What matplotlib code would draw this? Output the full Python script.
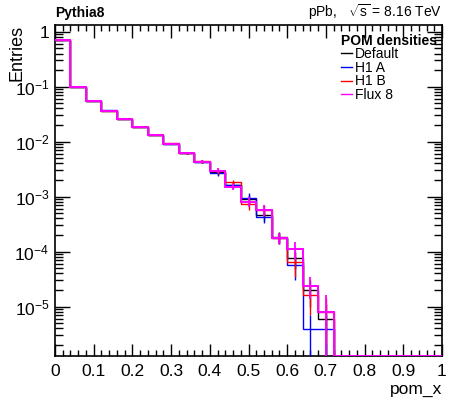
import numpy as np
import matplotlib
matplotlib.use("Agg")
import matplotlib.pyplot as plt
from matplotlib.lines import Line2D
from matplotlib.ticker import FixedLocator, FixedFormatter, LogLocator, NullFormatter, MultipleLocator

plt.rcParams['font.family'] = ['Liberation Sans', 'DejaVu Sans']
plt.rcParams['mathtext.fontset'] = 'custom'
plt.rcParams['mathtext.rm'] = 'Liberation Sans'
plt.rcParams['mathtext.it'] = 'Liberation Sans:italic'
plt.rcParams['mathtext.bf'] = 'Liberation Sans:bold'

# ---- data ----
bin_edges = [0.00, 0.04, 0.08, 0.12, 0.16, 0.20, 0.24, 0.28, 0.32, 0.36, 0.40, 0.44, 0.48,
             0.52, 0.56, 0.60, 0.64, 0.68, 0.72, 0.76, 0.80, 0.84, 0.88, 0.92, 0.96, 1.00]

default_vals = [0.71, 0.098, 0.0557, 0.0367, 0.0259, 0.0185, 0.0132, 0.0092, 0.0063, 0.0043,
                0.0028, 0.00165, 9.1e-4, 4.7e-4, 1.85e-4, 7.6e-5, 2.0e-5, 6.0e-6,
                0, 0, 0, 0, 0, 0, 0]
h1a_vals = [0.71, 0.098, 0.0557, 0.0368, 0.0262, 0.0187, 0.0132, 0.0092, 0.0063, 0.0043,
            0.0027, 0.00162, 9.6e-4, 4.3e-4, 1.8e-4, 5.6e-5, 3.9e-6, 3.9e-6,
            0, 0, 0, 0, 0, 0, 0]
h1b_vals = [0.71, 0.098, 0.0555, 0.0367, 0.0258, 0.0185, 0.0132, 0.0093, 0.0063, 0.00435,
            0.0029, 0.00182, 7.2e-4, 5.7e-4, 1.8e-4, 6.5e-5, 1.6e-5, 8.1e-6,
            0, 0, 0, 0, 0, 0, 0]
flux8_vals = [0.71, 0.098, 0.0555, 0.0366, 0.0257, 0.0184, 0.0131, 0.0091, 0.0062, 0.0043,
              0.00297, 0.00152, 8.1e-4, 5.7e-4, 1.75e-4, 1.1e-4, 2.4e-5, 8.1e-6,
              0, 0, 0, 0, 0, 0, 0]

default_err = [0.003, 0.0008, 0.0005, 0.0004, 0.0003, 0.00025, 0.0002, 0.00017, 2.5e-4, 3e-4,
               3e-4, 2e-4, 1.7e-4, 1.1e-4, 4e-5, 2.8e-5, 1e-5, 5e-6,
               0, 0, 0, 0, 0, 0, 0]
h1a_err = [0.003, 0.0008, 0.0005, 0.0004, 0.0003, 0.00025, 0.0002, 0.00017, 2.5e-4, 3e-4,
           3e-4, 2e-4, 1.8e-4, 1e-4, 4e-5, 2.5e-5, 3.2e-6, 3.2e-6,
           0, 0, 0, 0, 0, 0, 0]
h1b_err = [0.003, 0.0008, 0.0005, 0.0004, 0.0003, 0.00025, 0.0002, 0.00017, 2.5e-4, 3.5e-4,
           3.4e-4, 2.2e-4, 1.5e-4, 1.3e-4, 4e-5, 3e-5, 9e-6, 6e-6,
           0, 0, 0, 0, 0, 0, 0]
flux8_err = [0.003, 0.0008, 0.0005, 0.0004, 0.0003, 0.00025, 0.0002, 0.00017, 2.5e-4, 3e-4,
             3.4e-4, 2e-4, 1.6e-4, 1.3e-4, 4e-5, 4e-5, 1e-5, 8e-6,
             0, 0, 0, 0, 0, 0, 0]

series_labels = ["Default", "H1 A", "H1 B", "Flux 8"]
x_tick_labels = ["0", "0.1", "0.2", "0.3", "0.4", "0.5", "0.6", "0.7", "0.8", "0.9", "1"]
y_tick_labels = ["$10^{-5}$", "$10^{-4}$", "$10^{-3}$", "$10^{-2}$", "$10^{-1}$", "1"]

# ---- plotting ----
colors = ["#000000", "#0000ff", "#ff0000", "#ff00ff"]
widths = [1.0, 1.0, 1.0, 1.4]
YMIN, YMAX = 1.26e-6, 1.32

fig = plt.figure(figsize=(4.5, 4.0), dpi=100)
ax = fig.add_axes([55/450, 1-356/400, (442-55)/450, (356-25)/400])
ax.set_yscale('log')

edges = np.array(bin_edges)
centers = 0.5 * (edges[:-1] + edges[1:])
all_vals = [default_vals, h1a_vals, h1b_vals, flux8_vals]
all_errs = [default_err, h1a_err, h1b_err, flux8_err]

for k, (vals, errs) in enumerate(zip(all_vals, all_errs)):
    v = np.array(vals, dtype=float)
    e = np.array(errs, dtype=float)
    shown = np.where(v > 0, v, YMIN)
    ax.stairs(shown, edges, baseline=None, color=colors[k], lw=widths[k], zorder=3 + k)
    m = v > 0
    ax.errorbar(centers[m], v[m], yerr=e[m], fmt='none', ecolor=colors[k],
                elinewidth=1.0 if k < 3 else 1.3, capsize=0, zorder=3 + k)

ax.set_xlim(0, 1)
ax.set_ylim(YMIN, YMAX)

ax.xaxis.set_major_locator(FixedLocator(np.linspace(0, 1, 11)))
ax.xaxis.set_major_formatter(FixedFormatter(x_tick_labels))
ax.xaxis.set_minor_locator(MultipleLocator(0.02))
ax.yaxis.set_major_locator(FixedLocator([1e-5, 1e-4, 1e-3, 1e-2, 1e-1, 1]))
ax.yaxis.set_major_formatter(FixedFormatter(y_tick_labels))
ax.yaxis.set_minor_locator(LogLocator(base=10, subs=np.arange(2, 10), numticks=20))
ax.yaxis.set_minor_formatter(NullFormatter())

ax.tick_params(which='both', direction='in', top=True, right=True, width=1.0, labelsize=12.5)
ax.tick_params(axis='x', which='major', length=9, pad=6)
ax.tick_params(axis='x', which='minor', length=4.5)
ax.tick_params(axis='y', which='major', length=11, pad=4)
ax.tick_params(axis='y', which='minor', length=6)
for s in ax.spines.values():
    s.set_linewidth(1.2)

ax.set_xlabel("pom_x", loc='right', fontsize=12.5, labelpad=2)
fig.text(17/450, 1-25/400, "Entries", rotation=90, fontsize=13, ha='center', va='top')

fig.text(55/450, 1-17/400, "Pythia8", fontsize=10, fontweight='bold', ha='left', va='baseline')
fig.text(442/450, 1-17/400, r"pPb,   $\sqrt{\mathrm{s}}$ = 8.16 TeV", fontsize=10, ha='right', va='baseline')

handles = [Line2D([], [], color=c, lw=1.0) for c in colors]
leg = ax.legend(handles, series_labels, title="POM densities", loc='upper left',
                bbox_to_anchor=(331/450, 1-24/400), bbox_transform=fig.transFigure,
                frameon=False, fontsize=10, title_fontproperties={'weight': 'bold', 'size': 10},
                handlelength=0.8, handletextpad=0.25, labelspacing=-0.03, borderpad=0.2,
                alignment='left')
leg.set_zorder(10)

fig.savefig("out.png", dpi=100)
